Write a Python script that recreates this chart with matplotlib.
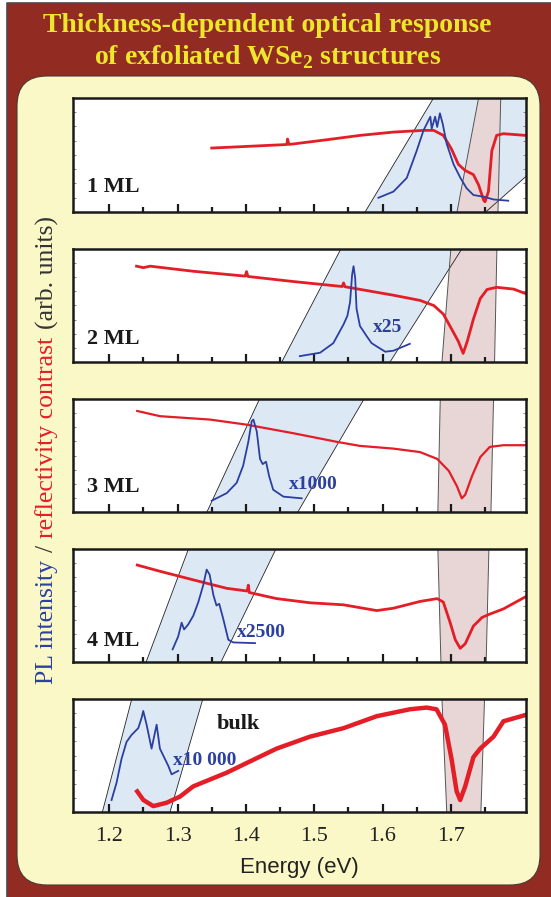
import matplotlib
matplotlib.use("Agg")
import matplotlib.pyplot as plt
from matplotlib.patches import FancyBboxPatch, Rectangle
from matplotlib.lines import Line2D

plt.rcParams['mathtext.fontset'] = 'custom'
plt.rcParams['mathtext.rm'] = 'Liberation Serif'
plt.rcParams['mathtext.bf'] = 'Liberation Serif:bold'

# ---- data (energy in eV, signal as fraction of panel height) ----
labels = ['1 ML', '2 ML', '3 ML', '4 ML', 'bulk']
pl_scale = ['', 'x25', 'x1000', 'x2500', 'x10 000']

E1_refl = [1.350, 1.400, 1.460, 1.461, 1.463, 1.4695, 1.520, 1.567, 1.616, 1.660, 1.675, 1.689,
           1.701, 1.711, 1.721, 1.733, 1.7405, 1.748, 1.750, 1.755, 1.760, 1.767, 1.777, 1.809]
R1 = [0.561, 0.575, 0.592, 0.640, 0.593, 0.597, 0.635, 0.672, 0.701, 0.716, 0.716, 0.672,
      0.552, 0.418, 0.364, 0.328, 0.239, 0.104, 0.090, 0.179, 0.537, 0.672, 0.687, 0.672]
E1_pl = [1.594, 1.616, 1.6355, 1.650, 1.660, 1.665, 1.670, 1.672, 1.677, 1.680, 1.684, 1.688,
         1.694, 1.704, 1.714, 1.723, 1.733, 1.748, 1.7625, 1.784]
P1 = [0.125, 0.179, 0.299, 0.537, 0.716, 0.776, 0.836, 0.731, 0.836, 0.746, 0.866, 0.776,
      0.597, 0.418, 0.299, 0.209, 0.149, 0.134, 0.110, 0.099]

E2_refl = [1.240, 1.250, 1.260, 1.323, 1.399, 1.401, 1.403, 1.4695, 1.541, 1.543, 1.545, 1.616,
           1.655, 1.675, 1.689, 1.7015, 1.711, 1.718, 1.724, 1.733, 1.743, 1.753, 1.767, 1.792, 1.809]
R2 = [0.848, 0.835, 0.848, 0.803, 0.760, 0.800, 0.757, 0.712, 0.668, 0.700, 0.666, 0.591,
      0.545, 0.500, 0.424, 0.288, 0.182, 0.076, 0.182, 0.379, 0.561, 0.642, 0.661, 0.645, 0.606]
E2_pl = [1.479, 1.5086, 1.528, 1.543, 1.5486, 1.5525, 1.5555, 1.5576, 1.560, 1.562, 1.567,
         1.572, 1.577, 1.584, 1.592, 1.604, 1.616, 1.640]
P2 = [0.052, 0.082, 0.167, 0.333, 0.409, 0.530, 0.773, 0.848, 0.742, 0.470, 0.318,
      0.273, 0.227, 0.167, 0.136, 0.091, 0.100, 0.161]

E3_refl = [1.241, 1.2742, 1.3475, 1.401, 1.4695, 1.533, 1.567, 1.616, 1.655, 1.680, 1.697,
           1.709, 1.716, 1.721, 1.731, 1.743, 1.757, 1.777, 1.809]
R3 = [0.894, 0.848, 0.818, 0.773, 0.697, 0.621, 0.585, 0.561, 0.530, 0.470, 0.364,
      0.227, 0.121, 0.152, 0.318, 0.485, 0.576, 0.591, 0.591]
E3_pl = [1.350, 1.372, 1.3865, 1.396, 1.4036, 1.4085, 1.411, 1.416, 1.4207, 1.4246, 1.4295,
         1.434, 1.440, 1.455, 1.4817]
P3 = [0.100, 0.167, 0.258, 0.409, 0.621, 0.803, 0.818, 0.712, 0.470, 0.424, 0.445,
      0.318, 0.197, 0.136, 0.121]

E4_refl = [1.241, 1.2742, 1.323, 1.372, 1.4020, 1.4036, 1.4050, 1.445, 1.494, 1.543, 1.5916,
           1.616, 1.655, 1.680, 1.689, 1.699, 1.7065, 1.7137, 1.721, 1.733, 1.7456, 1.757,
           1.777, 1.809]
R4 = [0.858, 0.803, 0.727, 0.652, 0.628, 0.680, 0.615, 0.561, 0.524, 0.506, 0.455,
      0.476, 0.536, 0.561, 0.530, 0.348, 0.197, 0.121, 0.161, 0.318, 0.394, 0.424,
      0.470, 0.576]
E4_pl = [1.2928, 1.301, 1.306, 1.3096, 1.3157, 1.323, 1.3304, 1.3377, 1.3426, 1.347, 1.3525,
         1.357, 1.361, 1.367, 1.3743, 1.3816, 1.4134]
P4 = [0.112, 0.227, 0.348, 0.288, 0.333, 0.409, 0.530, 0.682, 0.818, 0.773, 0.591,
      0.500, 0.515, 0.379, 0.197, 0.173, 0.167]

E5_refl = [1.241, 1.250, 1.2645, 1.284, 1.3035, 1.323, 1.372, 1.401, 1.445, 1.494, 1.543,
           1.5916, 1.640, 1.6646, 1.679, 1.6914, 1.701, 1.7085, 1.7137, 1.721, 1.733, 1.743,
           1.7625, 1.777, 1.809]
R5 = [0.182, 0.106, 0.052, 0.082, 0.136, 0.227, 0.348, 0.433, 0.561, 0.667, 0.742,
      0.848, 0.909, 0.924, 0.909, 0.773, 0.470, 0.182, 0.106, 0.227, 0.485, 0.561,
      0.667, 0.803, 0.858]
E5_pl = [1.2034, 1.2107, 1.218, 1.2254, 1.2327, 1.2425, 1.2474, 1.2498, 1.2547, 1.262,
         1.2694, 1.2742, 1.2815, 1.2864, 1.2913, 1.301]
P5 = [0.106, 0.258, 0.470, 0.621, 0.682, 0.742, 0.833, 0.894, 0.773, 0.561,
      0.773, 0.561, 0.470, 0.409, 0.333, 0.364]

refl_E = [E1_refl, E2_refl, E3_refl, E4_refl, E5_refl]
refl_R = [R1, R2, R3, R4, R5]
pl_E = [E1_pl, E2_pl, E3_pl, E4_pl, E5_pl]
pl_I = [P1, P2, P3, P4, P5]

# shaded guide bands (energy at panel bottom / top)
pl_band_lb = [1.5745, 1.4525, 1.343, 1.254, 1.190]
pl_band_lt = [1.6747, 1.539, 1.420, 1.316, 1.233]
pl_band_rb = [1.751, 1.611, 1.476, 1.3636, 1.289]
pl_band_rt = [1.940, 1.716, 1.573, 1.444, 1.337]
rc_band_lb = [1.709, 1.687, 1.681, 1.6855, 1.694]
rc_band_lt = [1.7406, 1.700, 1.6845, 1.681, 1.687]
rc_band_rb = [1.769, 1.764, 1.7587, 1.7517, 1.744]
rc_band_rt = [1.773, 1.7674, 1.7625, 1.7557, 1.7493]

xticks = [1.2, 1.3, 1.4, 1.5, 1.6, 1.7]
xticks_minor = [1.25, 1.35, 1.45, 1.55, 1.65, 1.75]

# ---- styling ----
BORDER = '#922b21'
CREAM = '#fbf8c8'
YELLOW = '#ece62c'
RED = '#e31e26'
BLUE = '#2b3fa0'
PL_FILL = '#dde8f5'
RC_FILL = '#e8d5d5'
SERIF = 'Liberation Serif'

W, H = 551, 897
fig = plt.figure(figsize=(W / 100, H / 100), dpi=100)
fig.patch.set_facecolor('white')
inch = fig.dpi_scale_trans

fig.add_artist(Rectangle((0.07, 0), 5.44, 8.94, transform=inch, facecolor=BORDER,
                         edgecolor='none', zorder=-3))
fig.add_artist(Line2D([0.07, 0.07, 5.51], [0, 8.94, 8.94], transform=inch,
                      color='#4a4a4a', lw=1.2, zorder=-2))
fig.add_artist(FancyBboxPatch((0.17, 0.12), 5.23, 8.09,
                              boxstyle='round,pad=0,rounding_size=0.3', transform=inch,
                              facecolor=CREAM, edgecolor='#4a3a30', lw=0.8, zorder=-1))

fig.text(0.485, 1 - 25 / H, 'Thickness-dependent optical response', ha='center',
         va='center', fontsize=20, fontweight='bold', family=SERIF, color=YELLOW)
fig.text(0.485, 1 - 57 / H, r'of exfoliated WSe$_\mathbf{2}$ structures', ha='center',
         va='center', fontsize=20, fontweight='bold', family=SERIF, color=YELLOW)

panel_px = [(98, 212), (249, 362), (399, 512), (549, 662), (699, 812)]
label_pos = [(1.167, 0.179), (1.167, 0.161), (1.167, 0.173), (1.167, 0.142), (1.357, 0.733)]
scale_pos = [None, (1.5857, 0.264), (1.4637, 0.203), (1.3865, 0.221), (1.2928, 0.415)]
red_lw = [2.0, 2.0, 1.6, 2.0, 3.2]

for i, (top, bot) in enumerate(panel_px):
    ax = fig.add_axes([73 / W, 1 - bot / H, 453 / W, (bot - top) / H])
    ax.set_xlim(1.147, 1.81)
    ax.set_ylim(0, 1)

    ax.fill([pl_band_lb[i], pl_band_rb[i], pl_band_rt[i], pl_band_lt[i]], [0, 0, 1, 1],
            color=PL_FILL, lw=0, zorder=1)
    ax.plot([pl_band_lb[i], pl_band_lt[i]], [0, 1], color='#222222', lw=0.6, zorder=2)
    ax.plot([pl_band_rb[i], pl_band_rt[i]], [0, 1], color='#222222', lw=0.6, zorder=2)
    ax.fill([rc_band_lb[i], rc_band_rb[i], rc_band_rt[i], rc_band_lt[i]], [0, 0, 1, 1],
            color=RC_FILL, lw=0, zorder=1.5)
    ax.plot([rc_band_lb[i], rc_band_lt[i]], [0, 1], color='#555555', lw=0.7, zorder=2)
    ax.plot([rc_band_rb[i], rc_band_rt[i]], [0, 1], color='#555555', lw=0.7, zorder=2)

    ax.plot(refl_E[i], refl_R[i], color=RED, lw=red_lw[i], zorder=3, solid_joinstyle='round')
    ax.plot(pl_E[i], pl_I[i], color=BLUE, lw=1.3, zorder=4)

    ax.text(label_pos[i][0], label_pos[i][1], labels[i], fontsize=16, fontweight='bold',
            family=SERIF, color='#1a1a1a', va='baseline', zorder=5)
    if scale_pos[i] is not None:
        ax.text(scale_pos[i][0], scale_pos[i][1], pl_scale[i], fontsize=14, fontweight='bold',
                family=SERIF, color=BLUE, va='baseline', zorder=5)

    for s in ax.spines.values():
        s.set_linewidth(1.8)
        s.set_color('#1a1a1a')
        s.set_zorder(6)
    ax.set_xticks(xticks)
    ax.set_xticks(xticks_minor, minor=True)
    ax.set_yticks([0.125 * k for k in range(1, 8)])
    ax.tick_params(axis='x', which='major', direction='in', length=6, width=1.6,
                   top=False, color='#1a1a1a')
    ax.tick_params(axis='x', which='minor', direction='in', length=3.5, width=1.6,
                   top=False, color='#1a1a1a')
    ax.tick_params(axis='y', direction='in', length=2, width=0.6, left=True, right=True,
                   labelleft=False, color='#777777')
    if i < 4:
        ax.tick_params(axis='x', labelbottom=False)
    else:
        ax.set_xticklabels(['1.2', '1.3', '1.4', '1.5', '1.6', '1.7'], family=SERIF,
                           fontsize=16, color='#222222')
        ax.tick_params(axis='x', pad=11)
        ax.set_xlabel('Energy (eV)', family='Liberation Sans', fontsize=16,
                      color='#222222', labelpad=8)

# multi-coloured vertical axis label
pieces = [('PL intensity', BLUE), ('/', '#333333'), ('reflectivity contrast', RED),
          ('(arb. units)', '#333333')]
fs = 18.5
renderer = fig.canvas.get_renderer()
gap = 0.3 * fs * 100 / 72 / H
texts = []
total = 0
for s, c in pieces:
    t = fig.text(47 / W, 0, s, rotation=90, ha='center', va='bottom', fontsize=fs,
                 family=SERIF, color=c)
    h = t.get_window_extent(renderer).height / H
    texts.append((t, h))
    total += h
total += gap * (len(pieces) - 1)
y = 1 - 450 / H - total / 2
for t, h in texts:
    t.set_y(y)
    y += h + gap

fig.savefig('out.png', dpi=100)
